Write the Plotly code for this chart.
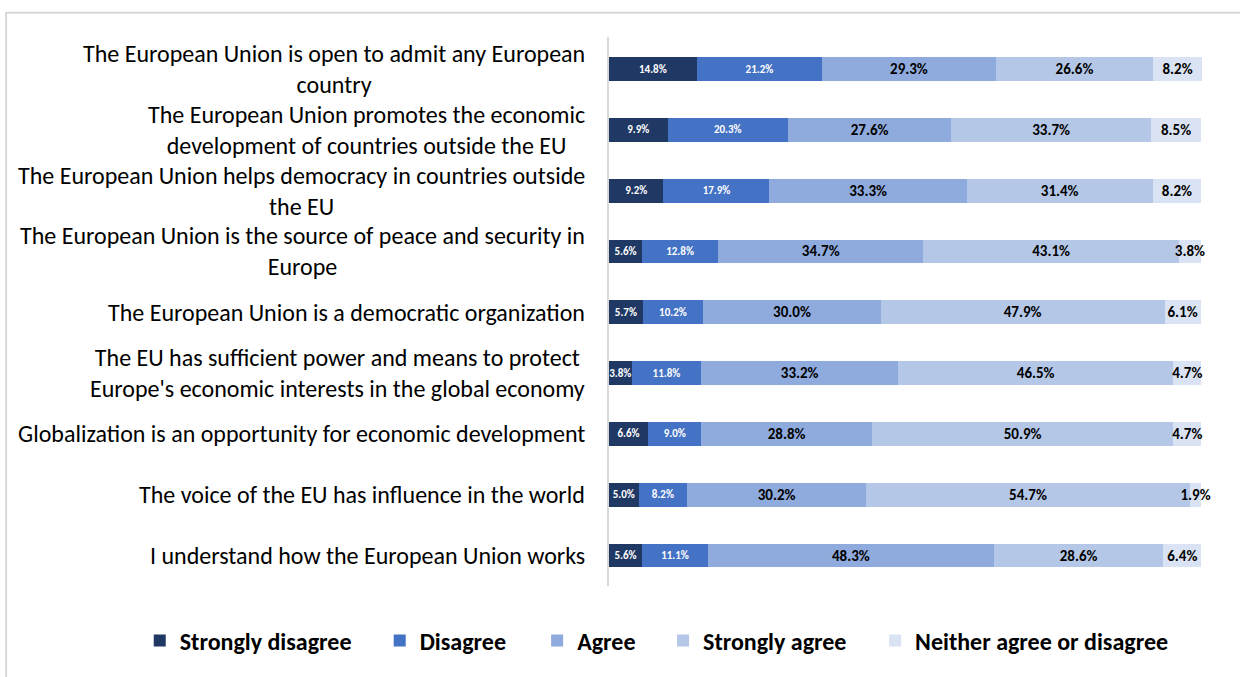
import plotly.graph_objects as go

categories = [
    "The European Union is open to admit any European<br>country",
    "The European Union promotes the economic<br>development of countries outside the EU",
    "The European Union helps democracy in countries outside<br>the EU",
    "The European Union is the source of peace and security in<br>Europe",
    "The European Union is a democratic organization",
    "The EU has sufficient power and means to protect<br>Europe's economic interests in the global economy",
    "Globalization is an opportunity for economic development",
    "The voice of the EU has influence in the world",
    "I understand how the European Union works",
]
series_names = ["Strongly disagree", "Disagree", "Agree", "Strongly agree", "Neither agree or disagree"]
strongly_disagree = [14.8, 9.9, 9.2, 5.6, 5.7, 3.8, 6.6, 5.0, 5.6]
disagree = [21.2, 20.3, 17.9, 12.8, 10.2, 11.8, 9.0, 8.2, 11.1]
agree = [29.3, 27.6, 33.3, 34.7, 30.0, 33.2, 28.8, 30.2, 48.3]
strongly_agree = [26.6, 33.7, 31.4, 43.1, 47.9, 46.5, 50.9, 54.7, 28.6]
neither = [8.2, 8.5, 8.2, 3.8, 6.1, 4.7, 4.7, 1.9, 6.4]

colors = ["#203864", "#4472C4", "#8FAADC", "#B4C7E7", "#DAE3F3"]
FONT = "Carlito, Lato, sans-serif"

# legend placement (one legend per series, to reproduce the spacing)
legend_x = [-0.79, -0.386, -0.121, 0.091, 0.448]

cat_ids = list(range(len(categories)))
fig = go.Figure()
all_series = [strongly_disagree, disagree, agree, strongly_agree, neither]
for i, (name, vals) in enumerate(zip(series_names, all_series)):
    white = i < 2
    lg = "legend" if i == 0 else f"legend{i + 1}"
    fig.add_trace(go.Bar(
        name=name, y=cat_ids, x=vals, orientation="h",
        marker=dict(color=colors[i], line=dict(width=0)),
        texttemplate="%{x:.1f}%", textposition="inside",
        insidetextanchor="middle", constraintext="none", textangle=0,
        cliponaxis=False,
        insidetextfont=dict(family=FONT, size=11 if white else 15,
                            color="white" if white else "black", weight="bold"),
        hoverinfo="skip", legend=lg,
    ))

# category labels (centered multi-line, right edge near axis)
for idx, cat in enumerate(categories):
    fig.add_annotation(
        x=0, xref="paper", y=idx, yref="y", text=cat, showarrow=False,
        xanchor="right", yanchor="middle", align="center", xshift=-22,
        font=dict(family=FONT, size=24, color="#000000"),
    )

legend_common = dict(orientation="h", xanchor="left", y=-0.1, yanchor="middle",
                     font=dict(family=FONT, size=24, color="black", weight="bold"),
                     bgcolor="rgba(0,0,0,0)", itemclick=False, itemdoubleclick=False)
layout_legends = {}
for i in range(5):
    key = "legend" if i == 0 else f"legend{i + 1}"
    layout_legends[key] = dict(legend_common, x=legend_x[i])

fig.update_layout(
    width=1240, height=677,
    margin=dict(l=609, r=37, t=37, b=91),
    barmode="stack", bargap=0.61,
    plot_bgcolor="white", paper_bgcolor="white",
    showlegend=True,
    xaxis=dict(range=[0, 100.3], showgrid=False, showticklabels=False, zeroline=False,
               fixedrange=True),
    yaxis=dict(autorange="reversed", showticklabels=False, showgrid=False,
               showline=True, linecolor="#D9D9D9", linewidth=2, zeroline=False,
               fixedrange=True, ticks=""),
    **layout_legends,
)
fig.add_shape(type="rect", xref="paper", yref="paper",
              x0=-1.015, x1=1.08, y0=-0.2, y1=1.044,
              line=dict(color="#D9D9D9", width=2), fillcolor="rgba(0,0,0,0)", layer="below")

fig.write_html("out.html")
